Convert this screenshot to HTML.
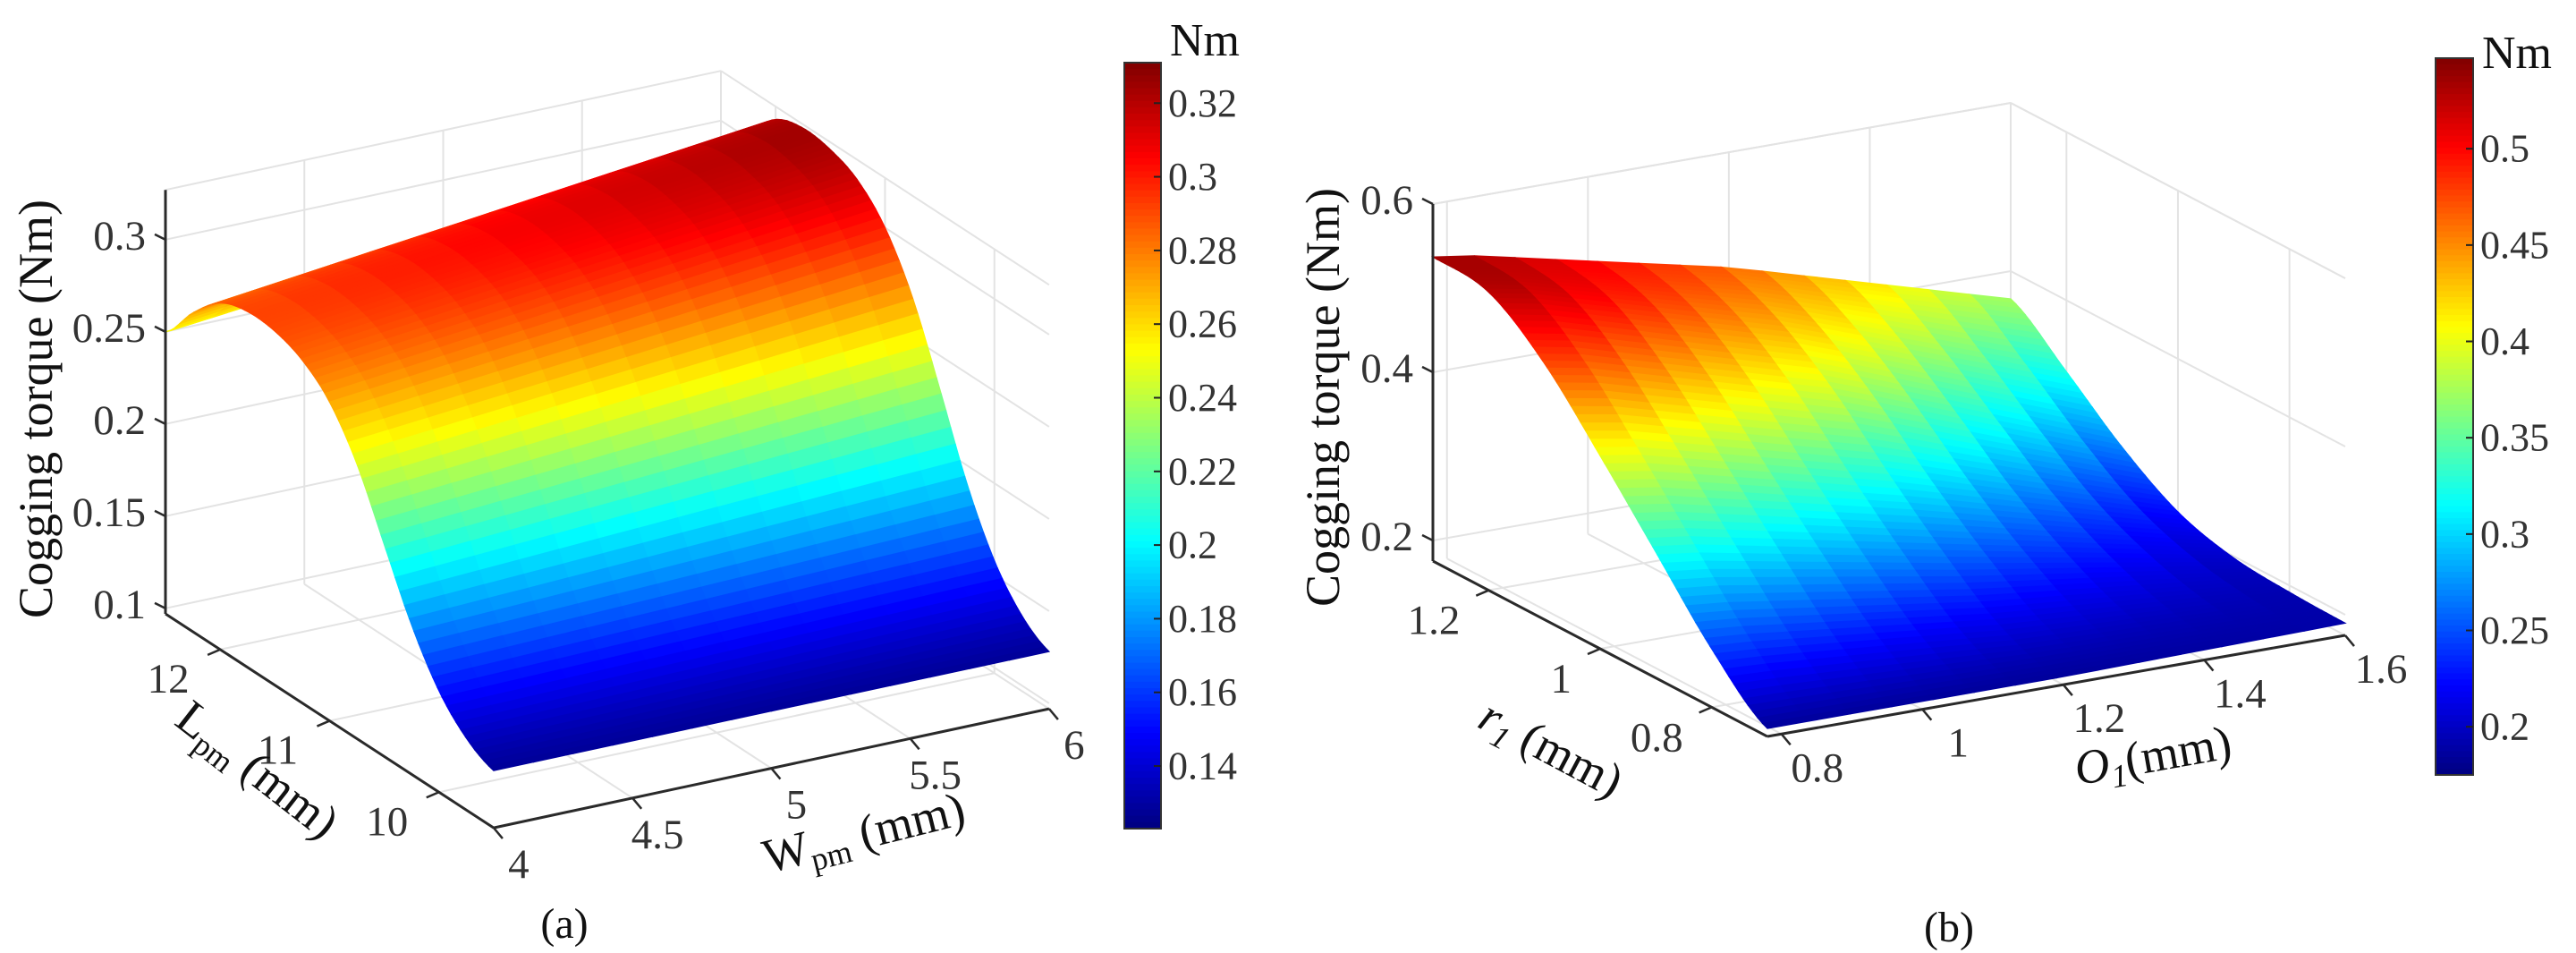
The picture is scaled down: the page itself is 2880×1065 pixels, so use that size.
<!DOCTYPE html>
<html><head><meta charset="utf-8"><style>
html,body{margin:0;padding:0;background:#fff;}
svg, svg text{font-family:"Liberation Serif","Times New Roman",serif !important;}
</style></head><body>
<svg id="fig" width="2880" height="1065" viewBox="0 0 2880 1065" xmlns="http://www.w3.org/2000/svg" style="position:absolute;left:0;top:0">
<g id="pa"></g>
<g id="pb"></g>
</svg>
<script>
// ---- Panel (a) data ----
const aL = [9.5,9.75,10,10.25,10.5,10.75,11,11.25,11.5,11.75,12,12.25,12.5];
const aW = [4,6];
const aZW4 = [0.128,0.136,0.152,0.178,0.212,0.246,0.270,0.283,0.289,0.290,0.285,0.270,0.250];
const aZW6 = [0.128,0.138,0.158,0.190,0.232,0.272,0.300,0.316,0.323,0.325,0.320,0.303,0.280];
const aZTicks = [0.1,0.15,0.2,0.25,0.3];
const aZTickLabels = ["0.1","0.15","0.2","0.25","0.3"];
const aLTicks = [10,11,12];
const aLTickLabels = ["10","11","12"];
const aWTicks = [4,4.5,5,5.5,6];
const aWTickLabels = ["4","4.5","5","5.5","6"];
const aCbTicks = [0.14,0.16,0.18,0.2,0.22,0.24,0.26,0.28,0.3,0.32];
const aCbTickLabels = ["0.14","0.16","0.18","0.2","0.22","0.24","0.26","0.28","0.3","0.32"];
// ---- Panel (b) data ----
const bR = [0.7,0.8,0.9,1.0,1.1,1.2,1.3];
const bO = [0.8,1.2,1.6];
const bZO08 = [0.185,0.245,0.325,0.405,0.480,0.530,0.537];
const bZO12 = [0.185,0.210,0.260,0.320,0.385,0.435,0.463];
const bZO16 = [0.190,0.192,0.198,0.218,0.260,0.315,0.367];
const bZTicks = [0.2,0.4,0.6];
const bZTickLabels = ["0.2","0.4","0.6"];
const bRTicks = [0.8,1.0,1.2];
const bRTickLabels = ["0.8","1","1.2"];
const bOTicks = [0.8,1.0,1.2,1.4,1.6];
const bOTickLabels = ["0.8","1","1.2","1.4","1.6"];
const bCbTicks = [0.2,0.25,0.3,0.35,0.4,0.45,0.5];
const bCbTickLabels = ["0.2","0.25","0.3","0.35","0.4","0.45","0.5"];

const NS="http://www.w3.org/2000/svg";
const FF='"Liberation Serif","Times New Roman",serif';
function mk(tag,attrs,parent){const e=document.createElementNS(NS,tag);for(const k in attrs)e.setAttribute(k,attrs[k]);if(tag==='text')e.setAttribute('font-family',FF);parent.appendChild(e);return e;}
function clamp(v){return Math.max(0,Math.min(1,v));}
function jet(t){t=clamp(t);const r=clamp(1.5-Math.abs(4*t-3)),g=clamp(1.5-Math.abs(4*t-2)),b=clamp(1.5-Math.abs(4*t-1));return `rgb(${Math.round(r*255)},${Math.round(g*255)},${Math.round(b*255)})`;}
function cr(arrX,arrY,x){
  let i=0;while(i<arrX.length-2&&x>arrX[i+1])i++;
  const t=(x-arrX[i])/(arrX[i+1]-arrX[i]);
  const p0=arrY[Math.max(0,i-1)],p1=arrY[i],p2=arrY[i+1],p3=arrY[Math.min(arrY.length-1,i+2)];
  return 0.5*((2*p1)+(-p0+p2)*t+(2*p0-5*p1+4*p2-p3)*t*t+(-p0+3*p1-3*p2+p3)*t*t*t);
}
function lin(xs,ys,x){let i=0;while(i<xs.length-2&&x>xs[i+1])i++;const t=(x-xs[i])/(xs[i+1]-xs[i]);return ys[i]+(ys[i+1]-ys[i])*t;}

function drawPanel(g,P){
  const proj=(a,b,z)=>[P.A[0]+(P.aHi-a)*P.da[0]+(b-P.bLo)*P.db[0], P.A[1]+(P.aHi-a)*P.da[1]+(b-P.bLo)*P.db[1]-(z-P.z0)*P.zs];
  const grid='#e3e3e3';
  const gg=mk('g',{},g);
  
  
  const line=(p,q,c,w,par)=>mk('line',{x1:p[0],y1:p[1],x2:q[0],y2:q[1],stroke:c,'stroke-width':w},par||gg);
  P.bTicks.forEach(b=>line(proj(P.aHi,b,P.z0),proj(P.aHi,b,P.zTop),grid,2));
  P.zTicks.forEach(z=>line(proj(P.aHi,P.bLo,z),proj(P.aHi,P.bHi,z),grid,2));
  P.aTicks.forEach(a=>line(proj(a,P.bHi,P.z0),proj(a,P.bHi,P.zTop),grid,2));
  P.zTicks.forEach(z=>line(proj(P.aHi,P.bHi,z),proj(P.aLo,P.bHi,z),grid,2));
  P.bTicks.forEach(b=>line(proj(P.aHi,b,P.z0),proj(P.aLo,b,P.z0),grid,2));
  P.aTicks.forEach(a=>line(proj(a,P.bLo,P.z0),proj(a,P.bHi,P.z0),grid,2));
  line(proj(P.aHi,P.bLo,P.zTop),proj(P.aHi,P.bHi,P.zTop),grid,2);
  line(proj(P.aHi,P.bHi,P.zTop),proj(P.aLo,P.bHi,P.zTop),grid,2);
  line(proj(P.aHi,P.bHi,P.z0),proj(P.aHi,P.bHi,P.zTop),grid,2);
  const sg=mk('g',{},g);
  
  
  const NA=70,NB=14,quads=[];
  const za=[];
  for(let i=0;i<=NA;i++){za.push([]);const a=P.aLo+(P.aHi-P.aLo)*i/NA;for(let j=0;j<=NB;j++){const b=P.bLo+(P.bHi-P.bLo)*j/NB;za[i].push(P.zf(a,b));}}
  for(let i=0;i<NA;i++)for(let j=0;j<NB;j++){
    const a0=P.aLo+(P.aHi-P.aLo)*i/NA,a1=P.aLo+(P.aHi-P.aLo)*(i+1)/NA,b0=P.bLo+(P.bHi-P.bLo)*j/NB,b1=P.bLo+(P.bHi-P.bLo)*(j+1)/NB;
    const pts=[proj(a0,b0,za[i][j]),proj(a1,b0,za[i+1][j]),proj(a1,b1,za[i+1][j+1]),proj(a0,b1,za[i][j+1])];
    const zm=(za[i][j]+za[i+1][j]+za[i+1][j+1]+za[i][j+1])/4;
    const depth=proj((a0+a1)/2,(b0+b1)/2,P.z0)[1];
    quads.push({pts,zm,depth});
  }
  quads.sort((p,q)=>p.depth-q.depth);
  quads.forEach(q=>{const c=jet((q.zm-P.cMin)/(P.cMax-P.cMin));
    const e=mk('polygon',{points:q.pts.map(p=>p[0].toFixed(1)+','+p[1].toFixed(1)).join(' '),fill:c,stroke:c,'stroke-width':1.2},sg);
    
    });
  const ag=mk('g',{},g);
  
  
  const ax='#2a2a2a';
  line(proj(P.aHi,P.bLo,P.z0),proj(P.aHi,P.bLo,P.zTop),ax,3,ag);
  line(proj(P.aHi,P.bLo,P.z0),proj(P.aLo,P.bLo,P.z0),ax,3,ag);
  line(proj(P.aLo,P.bLo,P.z0),proj(P.aLo,P.bHi,P.z0),ax,3,ag);
  P.zTicks.forEach((z,k)=>{const p=proj(P.aHi,P.bLo,z);line([p[0]-12,p[1]-6],p,ax,2.5,ag);
    const t=mk('text',{x:p[0]-22,y:p[1]-4,'text-anchor':'end','dominant-baseline':'central','font-size':47,fill:'#333'},ag);t.textContent=P.zLabels[k];
    
    });
  P.aTicksAx.forEach((a,k)=>{const p=proj(a,P.bLo,P.z0);line(p,[p[0]-14,p[1]+6],ax,2.5,ag);
    const t=mk('text',{x:p[0]+P.aLblOff[0],y:p[1]+P.aLblOff[1],'text-anchor':P.aAnchor,'dominant-baseline':'central','font-size':47,fill:'#333'},ag);t.textContent=P.aLabels[k];
    
    });
  P.bTicksAx.forEach((b,k)=>{const p=proj(P.aLo,b,P.z0);line(p,[p[0]+10,p[1]+12],ax,2.5,ag);
    const t=mk('text',{x:p[0]+P.bLblOff[0],y:p[1]+P.bLblOff[1],'text-anchor':'middle','dominant-baseline':'central','font-size':47,fill:'#333'},ag);t.textContent=P.bLabels[k];
    
    });
  const cb=mk('g',{},g);
  
  
  const [cx0,cy0,cx1,cy1]=P.cb;const N=120;
  for(let i=0;i<N;i++){const y=cy0+(cy1-cy0)*i/N;const c=jet(1-(i+0.5)/N);mk('rect',{x:cx0,y:y,width:cx1-cx0,height:(cy1-cy0)/N+0.8,fill:c},cb);}
  mk('rect',{x:cx0,y:cy0,width:cx1-cx0,height:cy1-cy0,fill:'none',stroke:'#333','stroke-width':2},cb);
  const cy=v=>cy1-(v-P.cMin)/(P.cMax-P.cMin)*(cy1-cy0);
  P.cbTicks.forEach((v,k)=>{const y=cy(v);line([cx1-8,y],[cx1,y],'#222',2,cb);
    const t=mk('text',{x:cx1+8,y:y,'dominant-baseline':'central','font-size':44,fill:'#333'},cb);t.textContent=P.cbLabels[k];
    
    });
  const nm=mk('text',{x:cx1+10,y:P.nmY,'font-size':52,fill:'#111'},cb);nm.textContent='Nm';
  
  
}

drawPanel(document.getElementById('pa'),{
  A:[185,686],aHi:12.5,aLo:9.5,da:[122.3,79.7],bLo:4,bHi:6,db:[310.5,-66.5],z0:0.097,zTop:0.327,zs:2060,
  zf:(a,b)=>{const z4=cr(aL,aZW4,a),z6=cr(aL,aZW6,a);return z4+(z6-z4)*(b-aW[0])/(aW[1]-aW[0]);},
  cMin:0.123,cMax:0.331,
  zTicks:aZTicks,zLabels:aZTickLabels,aTicks:aLTicks,aTicksAx:aLTicks,aLabels:aLTickLabels,aLblOff:[-58,33],aAnchor:'middle',
  bTicks:aWTicks,bTicksAx:aWTicks,bLabels:aWTickLabels,bLblOff:[28,41],
  cbTicks:aCbTicks,cbLabels:aCbTickLabels,cb:[1257,70,1298,926],nmY:62
});
drawPanel(document.getElementById('pb'),{
  A:[1602,627],aHi:1.3,aLo:0.7,da:[623.3,326.7],bLo:0.78,bHi:1.6,db:[787.8,-137.8],z0:0.1755,zTop:0.6,zs:940,
  zf:(a,b)=>{const z1=cr(bR,bZO08,a),z2=cr(bR,bZO12,a),z3=cr(bR,bZO16,a);return lin(bO,[z1,z2,z3],Math.max(0.8,b));},
  cMin:0.175,cMax:0.547,
  zTicks:bZTicks,zLabels:bZTickLabels,aTicks:bRTicks,aTicksAx:bRTicks,aLabels:bRTickLabels,aLblOff:[-32,34],aAnchor:'end',
  bTicks:bOTicks,bTicksAx:bOTicks,bLabels:bOTickLabels,bLblOff:[40,38],
  cbTicks:bCbTicks,cbLabels:bCbTickLabels,cb:[2723,65,2765,866],nmY:76
});
</script>
<svg style="position:absolute;left:0;top:0" width="2880" height="1065">
<text transform="translate(58,457) rotate(-90)" text-anchor="middle" font-size="54" fill="#111">Cogging torque (Nm)</text>
<text transform="translate(277,874) rotate(38)" text-anchor="middle" font-size="54" fill="#111">L<tspan font-size="36" dy="10">pm</tspan><tspan dy="-10"> (mm)</tspan></text>
<text transform="translate(970,948) rotate(-14)" text-anchor="middle" font-size="54" fill="#111">W<tspan font-size="36" dy="10">pm</tspan><tspan dy="-10"> (mm)</tspan></text>
<text x="631" y="1048" text-anchor="middle" font-size="48" fill="#111">(a)</text>
<text transform="translate(1497,444) rotate(-90)" text-anchor="middle" font-size="54" fill="#111">Cogging torque (Nm)</text>
<text transform="translate(1726,852) rotate(28)" text-anchor="middle" font-size="54" fill="#111"><tspan font-style="italic">r</tspan><tspan font-style="italic" font-size="36" dy="10">1</tspan><tspan dy="-10"> (mm)</tspan></text>
<text transform="translate(2410,862) rotate(-10)" text-anchor="middle" font-size="54" fill="#111"><tspan font-style="italic">O</tspan><tspan font-style="italic" font-size="36" dy="10">1</tspan><tspan dy="-10">(mm)</tspan></text>
<text x="2179" y="1052" text-anchor="middle" font-size="48" fill="#111">(b)</text>
</svg>
</body></html>
